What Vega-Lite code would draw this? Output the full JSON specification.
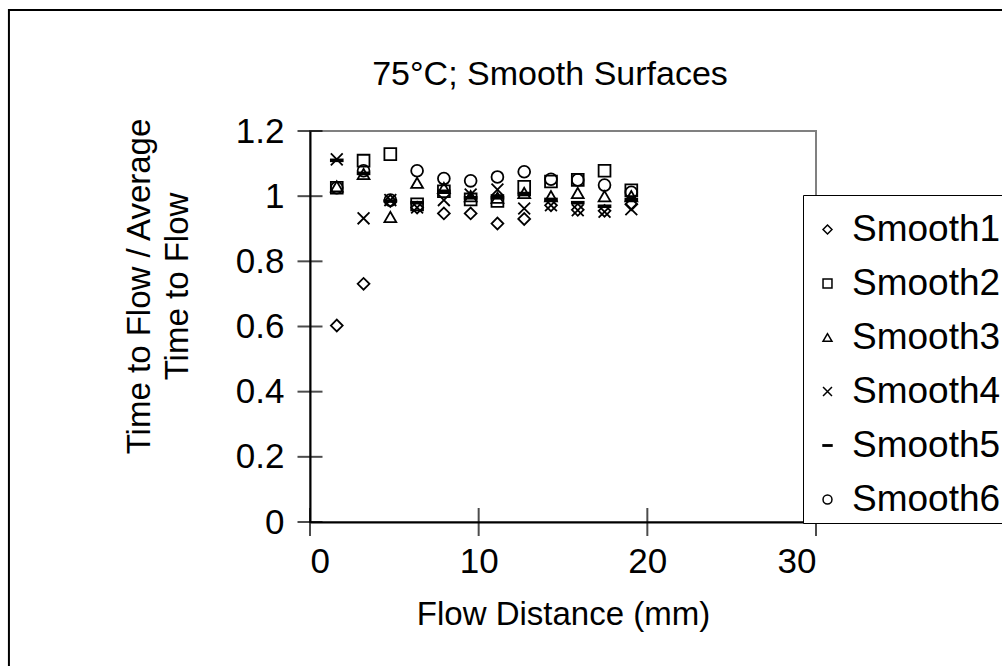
{
  "$schema": "https://vega.github.io/schema/vega-lite/v6.json",
  "autosize": "none",
  "width": 506,
  "height": 391,
  "padding": {"left": 310, "top": 131, "right": 186, "bottom": 144},
  "background": "white",
  "config": {
    "font": "Liberation Sans",
    "view": {"stroke": "#808080", "strokeWidth": 2},
    "axis": {
      "domainColor": "black",
      "domainWidth": 2,
      "ticks": false,
      "grid": false,
      "labelFont": "Liberation Sans",
      "labelFontSize": 35,
      "labelColor": "black",
      "titleFont": "Liberation Sans",
      "titleFontSize": 33,
      "titleFontWeight": "normal",
      "titleColor": "black"
    }
  },
  "title": {
    "text": "75°C; Smooth Surfaces",
    "font": "Liberation Sans",
    "fontSize": 34,
    "fontWeight": "normal",
    "color": "black",
    "anchor": "middle",
    "dx": -13,
    "dy": 110,
    "baseline": "alphabetic",
    "offset": 0
  },
  "datasets": {
    "pts": [
      {"series": "Smooth1", "x": 1.5875, "y": 0.603},
      {"series": "Smooth1", "x": 3.175, "y": 0.731},
      {"series": "Smooth1", "x": 4.7625, "y": 0.985},
      {"series": "Smooth1", "x": 6.35, "y": 0.965},
      {"series": "Smooth1", "x": 7.9375, "y": 0.947},
      {"series": "Smooth1", "x": 9.525, "y": 0.947},
      {"series": "Smooth1", "x": 11.1125, "y": 0.916},
      {"series": "Smooth1", "x": 12.7, "y": 0.93},
      {"series": "Smooth1", "x": 14.2875, "y": 0.972},
      {"series": "Smooth1", "x": 15.875, "y": 0.958},
      {"series": "Smooth1", "x": 17.4625, "y": 0.955},
      {"series": "Smooth1", "x": 19.05, "y": 0.975},
      {"series": "Smooth2", "x": 1.5875, "y": 1.026},
      {"series": "Smooth2", "x": 3.175, "y": 1.109},
      {"series": "Smooth2", "x": 4.7625, "y": 1.129},
      {"series": "Smooth2", "x": 6.35, "y": 0.975},
      {"series": "Smooth2", "x": 7.9375, "y": 1.015},
      {"series": "Smooth2", "x": 9.525, "y": 0.99},
      {"series": "Smooth2", "x": 11.1125, "y": 0.985},
      {"series": "Smooth2", "x": 12.7, "y": 1.029},
      {"series": "Smooth2", "x": 14.2875, "y": 1.045},
      {"series": "Smooth2", "x": 15.875, "y": 1.05},
      {"series": "Smooth2", "x": 17.4625, "y": 1.078},
      {"series": "Smooth2", "x": 19.05, "y": 1.018},
      {"series": "Smooth3", "x": 1.5875, "y": 1.03},
      {"series": "Smooth3", "x": 3.175, "y": 1.068},
      {"series": "Smooth3", "x": 4.7625, "y": 0.936},
      {"series": "Smooth3", "x": 6.35, "y": 1.041},
      {"series": "Smooth3", "x": 7.9375, "y": 1.025},
      {"series": "Smooth3", "x": 9.525, "y": 1.0},
      {"series": "Smooth3", "x": 11.1125, "y": 0.995},
      {"series": "Smooth3", "x": 12.7, "y": 1.01},
      {"series": "Smooth3", "x": 14.2875, "y": 1.0},
      {"series": "Smooth3", "x": 15.875, "y": 1.01},
      {"series": "Smooth3", "x": 17.4625, "y": 1.0},
      {"series": "Smooth3", "x": 19.05, "y": 1.0},
      {"series": "Smooth4", "x": 1.5875, "y": 1.113},
      {"series": "Smooth4", "x": 3.175, "y": 0.932},
      {"series": "Smooth4", "x": 4.7625, "y": 0.988},
      {"series": "Smooth4", "x": 6.35, "y": 0.965},
      {"series": "Smooth4", "x": 7.9375, "y": 0.988},
      {"series": "Smooth4", "x": 9.525, "y": 1.005},
      {"series": "Smooth4", "x": 11.1125, "y": 1.02},
      {"series": "Smooth4", "x": 12.7, "y": 0.962},
      {"series": "Smooth4", "x": 14.2875, "y": 0.972},
      {"series": "Smooth4", "x": 15.875, "y": 0.957},
      {"series": "Smooth4", "x": 17.4625, "y": 0.952},
      {"series": "Smooth4", "x": 19.05, "y": 0.96},
      {"series": "Smooth5", "x": 1.5875, "y": 1.11},
      {"series": "Smooth5", "x": 3.175, "y": 1.07},
      {"series": "Smooth5", "x": 4.7625, "y": 0.985},
      {"series": "Smooth5", "x": 6.35, "y": 0.98},
      {"series": "Smooth5", "x": 7.9375, "y": 1.015},
      {"series": "Smooth5", "x": 9.525, "y": 0.995},
      {"series": "Smooth5", "x": 11.1125, "y": 0.995},
      {"series": "Smooth5", "x": 12.7, "y": 1.005},
      {"series": "Smooth5", "x": 14.2875, "y": 0.99},
      {"series": "Smooth5", "x": 15.875, "y": 0.98},
      {"series": "Smooth5", "x": 17.4625, "y": 0.969},
      {"series": "Smooth5", "x": 19.05, "y": 0.99},
      {"series": "Smooth6", "x": 1.5875, "y": 1.026},
      {"series": "Smooth6", "x": 3.175, "y": 1.078},
      {"series": "Smooth6", "x": 4.7625, "y": 0.988},
      {"series": "Smooth6", "x": 6.35, "y": 1.078},
      {"series": "Smooth6", "x": 7.9375, "y": 1.054},
      {"series": "Smooth6", "x": 9.525, "y": 1.047},
      {"series": "Smooth6", "x": 11.1125, "y": 1.059},
      {"series": "Smooth6", "x": 12.7, "y": 1.075},
      {"series": "Smooth6", "x": 14.2875, "y": 1.052},
      {"series": "Smooth6", "x": 15.875, "y": 1.05},
      {"series": "Smooth6", "x": 17.4625, "y": 1.034},
      {"series": "Smooth6", "x": 19.05, "y": 1.012}
    ],
    "yticks": [{"v": 0}, {"v": 0.2}, {"v": 0.4}, {"v": 0.6}, {"v": 0.8}, {"v": 1.0}, {"v": 1.2}],
    "xticks": [{"v": 0}, {"v": 10}, {"v": 20}, {"v": 30}],
    "frame": [{}]
  },
  "layer": [
    {
      "data": {"name": "frame"},
      "mark": {"type": "rect", "filled": false, "color": "black", "strokeWidth": 2, "clip": false},
      "encoding": {
        "x": {"datum": -17.85, "type": "quantitative", "scale": {"domain": [0, 30]}},
        "x2": {"datum": 50},
        "y": {"datum": 1.571, "type": "quantitative", "scale": {"domain": [0, 1.2]}},
        "y2": {"datum": -0.5}
      }
    },
    {
      "data": {"name": "pts"},
      "mark": {"type": "point", "filled": false, "stroke": "black", "strokeWidth": 1.8, "size": 140, "opacity": 1},
      "encoding": {
        "x": {
          "field": "x", "type": "quantitative",
          "scale": {"domain": [0, 30], "nice": false},
          "axis": {"values": [0, 10, 20, 30], "title": "Flow Distance (mm)", "labelPadding": 22, "titleX": 253, "titleY": 92, "titleBaseline": "middle", "titleAlign": "center"}
        },
        "y": {
          "field": "y", "type": "quantitative",
          "scale": {"domain": [0, 1.2], "nice": false, "zero": true},
          "axis": {"values": [0, 0.2, 0.4, 0.6, 0.8, 1.0, 1.2], "format": "~g", "labelPadding": 26, "title": ["Time to Flow / Average", "Time to Flow"], "titleX": -171, "titleY": 155, "titleBaseline": "middle", "titleAlign": "center", "titleAngle": -90, "titleLineHeight": 38}
        },
        "shape": {
          "field": "series", "type": "nominal",
          "scale": {
            "domain": ["Smooth1", "Smooth2", "Smooth3", "Smooth4", "Smooth5", "Smooth6"],
            "range": ["diamond", "square", "triangle-up", "M-1,-1L1,1M-1,1L1,-1", "M-1,-0.15H1V0.15H-1Z", "circle"]
          },
          "legend": {
            "title": " ",
            "titleFontSize": 10,
            "titlePadding": 1,
            "orient": "none",
            "legendX": 493,
            "legendY": 64,
            "direction": "vertical",
            "padding": 5,
            "strokeColor": "black",
            "fillColor": "white",
            "labelFont": "Liberation Sans",
            "labelFontSize": 37,
            "labelColor": "black",
            "labelOffset": 6,
            "symbolOffset": 1,
            "symbolSize": 80,
            "symbolStrokeColor": "black",
            "symbolStrokeWidth": 1.5,
            "symbolFillColor": "transparent",
            "rowPadding": 16,
            "labelLimit": 400
          }
        }
      }
    },
    {
      "data": {"name": "yticks"},
      "mark": {"type": "tick", "orient": "horizontal", "color": "black", "size": 25, "thickness": 2, "clip": false},
      "encoding": {
        "x": {"datum": 0, "type": "quantitative"},
        "y": {"field": "v", "type": "quantitative"}
      }
    },
    {
      "data": {"name": "xticks"},
      "mark": {"type": "tick", "orient": "vertical", "color": "black", "size": 28, "thickness": 2, "clip": false},
      "encoding": {
        "x": {"field": "v", "type": "quantitative"},
        "y": {"datum": 0, "type": "quantitative"}
      }
    }
  ]
}
